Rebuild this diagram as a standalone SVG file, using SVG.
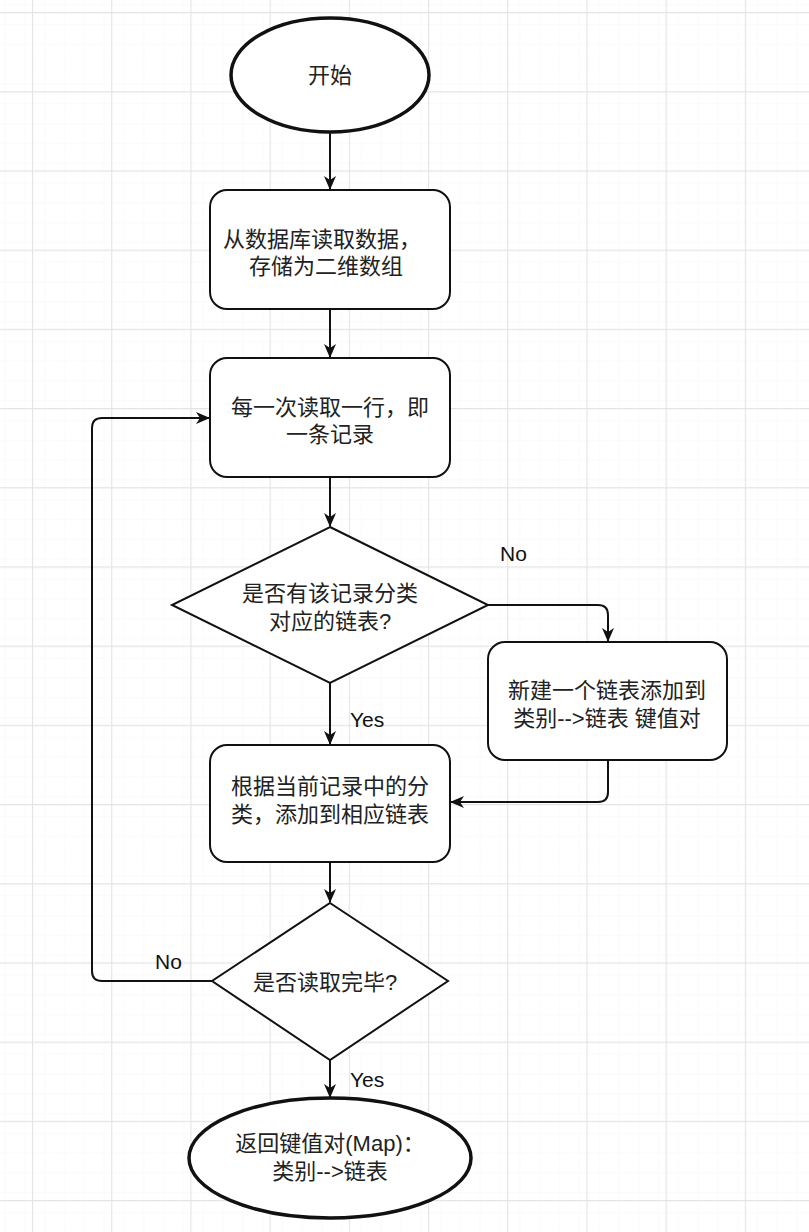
<svg xmlns="http://www.w3.org/2000/svg" width="809" height="1232" viewBox="0 0 809 1232">
<style>
.node{fill:#ffffff;stroke:#111111;stroke-width:2}
.term{fill:#ffffff;stroke:#111111;stroke-width:3.5}
.t{font-family:"Liberation Sans","Noto Sans CJK SC",sans-serif;font-size:22px;fill:#222222;text-anchor:middle;dominant-baseline:central}
.lbl{font-family:"Liberation Sans","Noto Sans CJK SC",sans-serif;font-size:21px;fill:#111111;dominant-baseline:central}
.edge{fill:none;stroke:#111111;stroke-width:2;marker-end:url(#arr)}
</style>
<defs>
<pattern id="minor" x="32" y="12" width="19.8" height="19.8" patternUnits="userSpaceOnUse">
<path d="M0 0H19.8M0 0V19.8" fill="none" stroke="#f6f6f6" stroke-width="1"/>
</pattern>
<pattern id="grid" x="32" y="12" width="79.2" height="79.2" patternUnits="userSpaceOnUse">
<rect width="79.2" height="79.2" fill="url(#minor)"/>
<path d="M0 0.5H79.2M0.5 0V79.2" fill="none" stroke="#e4e4e4" stroke-width="1.3"/>
</pattern>
<marker id="arr" viewBox="0 0 14 12" refX="13" refY="6" markerWidth="14" markerHeight="12" markerUnits="userSpaceOnUse" orient="auto">
<path d="M0 0L14 6L0 12L4 6Z" fill="#111111"/>
</marker>
</defs>
<rect width="809" height="1232" fill="#ffffff"/>
<rect width="809" height="1232" fill="url(#grid)"/>

<g id="connectors">
<path class="edge" d="M330 133V189"/>
<path class="edge" d="M330 310V357"/>
<path class="edge" d="M330 478V526"/>
<path class="edge" d="M488 605H598Q608 605 608 615V641"/>
<path class="edge" d="M330 683V744"/>
<path class="edge" d="M608 760V792Q608 802 598 802H451"/>
<path class="edge" d="M330 862V902"/>
<path class="edge" d="M212 981H102Q92 981 92 971V428Q92 418 102 418H209"/>
<path class="edge" d="M330 1060V1097"/>
<text class="lbl" x="500" y="553">No</text>
<text class="lbl" x="350" y="719">Yes</text>
<text class="lbl" x="155" y="961">No</text>
<text class="lbl" x="350" y="1079">Yes</text>
</g>

<g id="start">
<ellipse class="term" cx="330" cy="75" rx="99" ry="57"/>
<text class="t" x="330" y="75">开始</text>
</g>

<g id="read-db">
<rect class="node" x="210" y="190" width="240" height="119" rx="17"/>
<text class="t" x="322" y="239">从数据库读取数据，</text>
<text class="t" x="326" y="266">存储为二维数组</text>
</g>

<g id="read-row">
<rect class="node" x="210" y="358" width="240" height="119" rx="17"/>
<text class="t" x="330" y="407">每一次读取一行，即</text>
<text class="t" x="330" y="434">一条记录</text>
</g>

<g id="has-list">
<polygon class="node" points="330,527 488,605 330,683 172,605"/>
<text class="t" x="330" y="593">是否有该记录分类</text>
<text class="t" x="330" y="621">对应的链表?</text>
</g>

<g id="new-list">
<rect class="node" x="488" y="642" width="239" height="118" rx="17"/>
<text class="t" x="607" y="690">新建一个链表添加到</text>
<text class="t" x="607" y="718">类别--&gt;链表 键值对</text>
</g>

<g id="add-to-list">
<rect class="node" x="210" y="745" width="240" height="117" rx="17"/>
<text class="t" x="330" y="786">根据当前记录中的分</text>
<text class="t" x="330" y="814">类，添加到相应链表</text>
</g>

<g id="done">
<polygon class="node" points="330,903 448,981 330,1060 212,981"/>
<text class="t" x="325" y="982">是否读取完毕?</text>
</g>

<g id="end">
<ellipse class="term" cx="330" cy="1158" rx="141" ry="60"/>
<text class="t" x="330" y="1143">返回键值对(Map)：</text>
<text class="t" x="330" y="1171">类别--&gt;链表</text>
</g>
</svg>
